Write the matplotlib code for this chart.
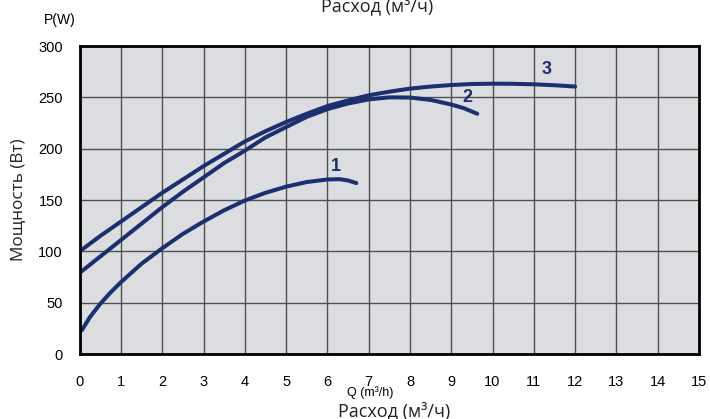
import matplotlib
matplotlib.use("Agg")
import matplotlib.pyplot as plt

# ---- data ----
q1 = [0.05, 0.25, 0.5, 0.75, 1, 1.5, 2, 2.5, 3, 3.5, 4, 4.5, 5, 5.5, 6, 6.3, 6.5, 6.7]
p1 = [23, 36, 49, 60, 70, 88, 103, 117, 129, 140, 149.5, 157, 163, 167.5, 170, 170.3, 169, 166.5]

q2 = [0, 0.5, 1, 1.5, 2, 2.5, 3, 3.5, 4, 4.5, 5, 5.5, 6, 6.5, 7, 7.5, 8, 8.5, 9, 9.3, 9.63]
p2 = [79, 95, 111, 127, 143, 158, 172, 186, 198, 211, 221, 231, 238.5, 244, 248, 250, 249.8, 247.5, 243, 239.5, 234]

q3 = [0, 0.5, 1, 1.5, 2, 2.5, 3, 3.5, 4, 4.5, 5, 5.5, 6, 6.5, 7, 7.5, 8, 8.5, 9, 9.5, 10, 10.5, 11, 11.5, 12]
p3 = [100, 115, 129, 143, 157, 170, 183, 195, 207, 217, 226, 234, 241.5, 247, 252, 255.5, 258.5, 260.5, 262, 263, 263.3, 263.2, 262.7, 261.8, 260.5]

curve_labels = ["1", "2", "3"]
label_pos = [(6.2, 183), (9.38, 250), (11.3, 277)]

x_ticks = list(range(0, 16))
y_ticks = [0, 50, 100, 150, 200, 250, 300]

navy = "#1c2f6e"
bg = "#dcdde0"

fig = plt.figure(figsize=(7.10, 4.19), dpi=100)
ax = fig.add_axes([0.1122, 0.1551, 0.8723, 0.7351])
ax.set_facecolor(bg)
ax.set_xlim(0, 15)
ax.set_ylim(0, 300)
ax.set_xticks(x_ticks)
ax.set_yticks(y_ticks)
ax.grid(True, color="#505050", linewidth=1.0)
ax.set_axisbelow(True)
for s in ax.spines.values():
    s.set_linewidth(2.0)
    s.set_color("black")
ax.tick_params(length=0, labelsize=10.5, colors="black")
ax.tick_params(axis="x", pad=15)
ax.tick_params(axis="y", pad=12)
for lab in ax.get_xticklabels() + ax.get_yticklabels():
    lab.set_family(["Liberation Sans", "DejaVu Sans"])

for q, p in [(q1, p1), (q2, p2), (q3, p3)]:
    ax.plot(q, p, color=navy, linewidth=2.9, solid_capstyle="round", solid_joinstyle="round")

for t, (x, y) in zip(curve_labels, label_pos):
    ax.text(x, y, t, color=navy, fontsize=13, fontweight="bold", ha="center", va="center",
            family=["Liberation Sans", "DejaVu Sans"])

fig.text(60 / 710, 1 - 20 / 419, "P(W)", fontsize=10, ha="center", va="center",
         family=["Liberation Sans", "DejaVu Sans"])
fig.text(18 / 710, 1 - 200 / 419, "Мощность (Вт)", fontsize=12.3, rotation=90,
         ha="center", va="center", family=["Open Sans", "DejaVu Sans"], color="#222222")
fig.text(377 / 710, 1 - 11 / 419, "Расход (м³/ч)", fontsize=13, ha="center", va="baseline",
         family=["Open Sans", "DejaVu Sans"], color="#222222")
fig.text(370 / 710, 1 - 396 / 419, "Q (m³/h)", fontsize=9, ha="center", va="baseline",
         family=["Liberation Sans", "DejaVu Sans"])
fig.text(394 / 710, 1 - 416 / 419, "Расход (м³/ч)", fontsize=13, ha="center", va="baseline",
         family=["Open Sans", "DejaVu Sans"], color="#222222")

fig.savefig("out.png", dpi=100)
